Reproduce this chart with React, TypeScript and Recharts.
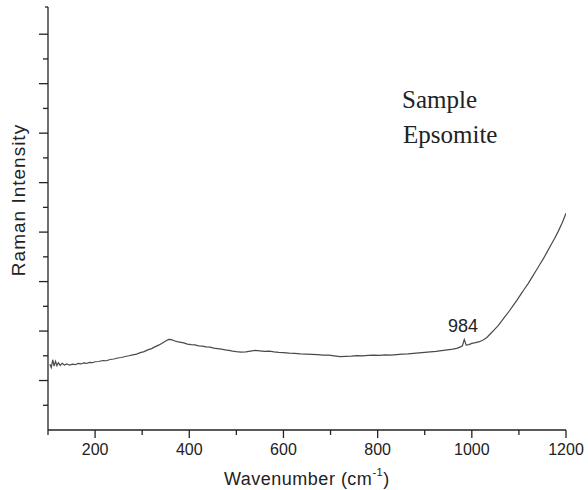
import React from "react";
import { LineChart, Line, XAxis, YAxis } from "recharts";

const wavenumbers = [
  104, 107, 110, 113, 116, 119, 122, 126, 130, 135,
  140, 146, 152, 158, 164, 170, 176, 182, 188, 194,
  200, 208, 216, 224, 232, 240, 248, 256, 264, 272,
  280, 288, 296, 304, 312, 320, 328, 336, 344, 350,
  356, 362, 368, 374, 380, 388, 396, 404, 412, 420,
  428, 436, 444, 452, 460, 468, 476, 484, 492, 500,
  510, 520, 530, 540, 550, 560, 570, 580, 590, 600,
  612, 624, 636, 648, 660, 672, 684, 696, 708, 720,
  732, 744, 756, 768, 780, 792, 804, 816, 828, 840,
  852, 864, 876, 888, 900, 912, 924, 936, 948, 960,
  968, 976, 980, 984, 988, 994, 1000, 1008, 1016, 1024,
  1032, 1040, 1048, 1056, 1064, 1072, 1080, 1088, 1096, 1104,
  1112, 1120, 1128, 1136, 1144, 1152, 1160, 1168, 1176, 1184,
  1192, 1200,
];

const intensities = [
  2.66, 2.52, 2.84, 2.58, 2.78, 2.6, 2.72, 2.61, 2.7, 2.63,
  2.67, 2.62, 2.66, 2.64, 2.69, 2.67, 2.71, 2.69, 2.73, 2.72,
  2.76, 2.77, 2.81, 2.8, 2.85, 2.87, 2.91, 2.93, 2.97, 3.0,
  3.04, 3.07, 3.13, 3.17, 3.24, 3.29, 3.37, 3.44, 3.53, 3.6,
  3.66, 3.65, 3.61, 3.57, 3.55, 3.52, 3.47, 3.45, 3.44, 3.4,
  3.39, 3.36, 3.35, 3.31, 3.29, 3.27, 3.24, 3.22, 3.19, 3.17,
  3.15, 3.16, 3.19, 3.22, 3.2, 3.18, 3.19, 3.16, 3.14, 3.13,
  3.11, 3.1, 3.08, 3.07, 3.06, 3.05, 3.03, 3.03, 3.0, 2.97,
  2.98, 2.99, 3.01, 3.0, 3.02, 3.03, 3.02, 3.04, 3.03, 3.05,
  3.07, 3.08, 3.1, 3.12, 3.14, 3.16, 3.18, 3.21, 3.24, 3.27,
  3.3, 3.36, 3.4, 3.66, 3.43, 3.45, 3.5, 3.53, 3.57, 3.64,
  3.74, 3.9, 4.06, 4.22, 4.42, 4.62, 4.82, 5.04, 5.25, 5.48,
  5.71, 5.93, 6.18, 6.43, 6.68, 6.93, 7.2, 7.48, 7.75, 8.05,
  8.38, 8.76,
];

const xTicks = [100, 200, 300, 400, 500, 600, 700, 800, 900, 1000, 1100, 1200];
const xTickLabels = ["", "200", "", "400", "", "600", "", "800", "", "1000", "", "1200"];
const yTicks = [1, 2, 3, 4, 5, 6, 7, 8, 9, 10, 11, 12, 13, 14, 15, 16, 17.1];
const yDomainMax = 17.1;

const data = wavenumbers.map((w, i) => ({ w, v: intensities[i] }));

const AXIS = "#222";

const XTick = (props: any) => {
  const { x, y, index } = props;
  const label = xTickLabels[index] ?? "";
  const major = label !== "";
  return (
    <g>
      <line x1={x} x2={x} y1={y} y2={y + (major ? 8 : 5)} stroke={AXIS} strokeWidth={1.3} />
      {major && (
        <text
          x={x}
          y={y + 25}
          textAnchor="middle"
          fontFamily="Liberation Sans, Arial, sans-serif"
          fontSize={16}
          fill="#222"
        >
          {label}
        </text>
      )}
    </g>
  );
};

const YTick = (props: any) => {
  const { x, y, payload } = props;
  const v = payload.value;
  let len = 5;
  if (v > 16.5) len = 3;
  else if (v % 2 === 0) len = 9;
  return <line x1={x - len} x2={x} y1={y} y2={y} stroke={AXIS} strokeWidth={1.3} />;
};

export default function App() {
  return (
    <div style={{ position: "absolute", left: 0, top: 0, width: 588, height: 490, background: "#fff" }}>
      <LineChart
        width={588}
        height={490}
        data={data}
        margin={{ top: 7, right: 22, bottom: 59, left: 47 }}
      >
        <XAxis
          dataKey="w"
          type="number"
          domain={[100, 1200]}
          ticks={xTicks}
          interval={0}
          height={1}
          tickSize={0}
          tickMargin={0}
          tickLine={false}
          tick={<XTick />}
          axisLine={{ stroke: AXIS, strokeWidth: 1.3 }}
          allowDataOverflow
        />
        <YAxis
          type="number"
          domain={[0, yDomainMax]}
          ticks={yTicks}
          interval={0}
          width={1}
          tickSize={0}
          tickMargin={0}
          tickLine={false}
          tick={<YTick />}
          axisLine={{ stroke: AXIS, strokeWidth: 1.3 }}
          allowDataOverflow
        />
        <Line
          type="linear"
          dataKey="v"
          stroke="#4a4a4a"
          strokeWidth={1.2}
          dot={false}
          isAnimationActive={false}
        />
      </LineChart>
      <svg
        width={588}
        height={490}
        style={{ position: "absolute", left: 0, top: 0, pointerEvents: "none" }}
      >
        <text
          transform="translate(25,200) rotate(-90)"
          textAnchor="middle"
          fontFamily="Liberation Sans, Arial, sans-serif"
          fontSize={19}
          letterSpacing={1}
          fill="#222"
        >
          Raman Intensity
        </text>
        <text
          x={224}
          y={485}
          fontFamily="Liberation Sans, Arial, sans-serif"
          fontSize={18}
          letterSpacing={0.5}
          fill="#222"
        >
          Wavenumber (cm
          <tspan fontSize={11} dy={-9}>-1</tspan>
          <tspan dy={9}>)</tspan>
        </text>
        <text x={402} y={108} fontFamily="Liberation Serif, Times New Roman, serif" fontSize={25} fill="#222">
          Sample
        </text>
        <text x={403} y={143} fontFamily="Liberation Serif, Times New Roman, serif" fontSize={25} fill="#222">
          Epsomite
        </text>
        <text x={448} y={332} fontFamily="Liberation Sans, Arial, sans-serif" fontSize={18} fill="#222">
          984
        </text>
      </svg>
    </div>
  );
}
